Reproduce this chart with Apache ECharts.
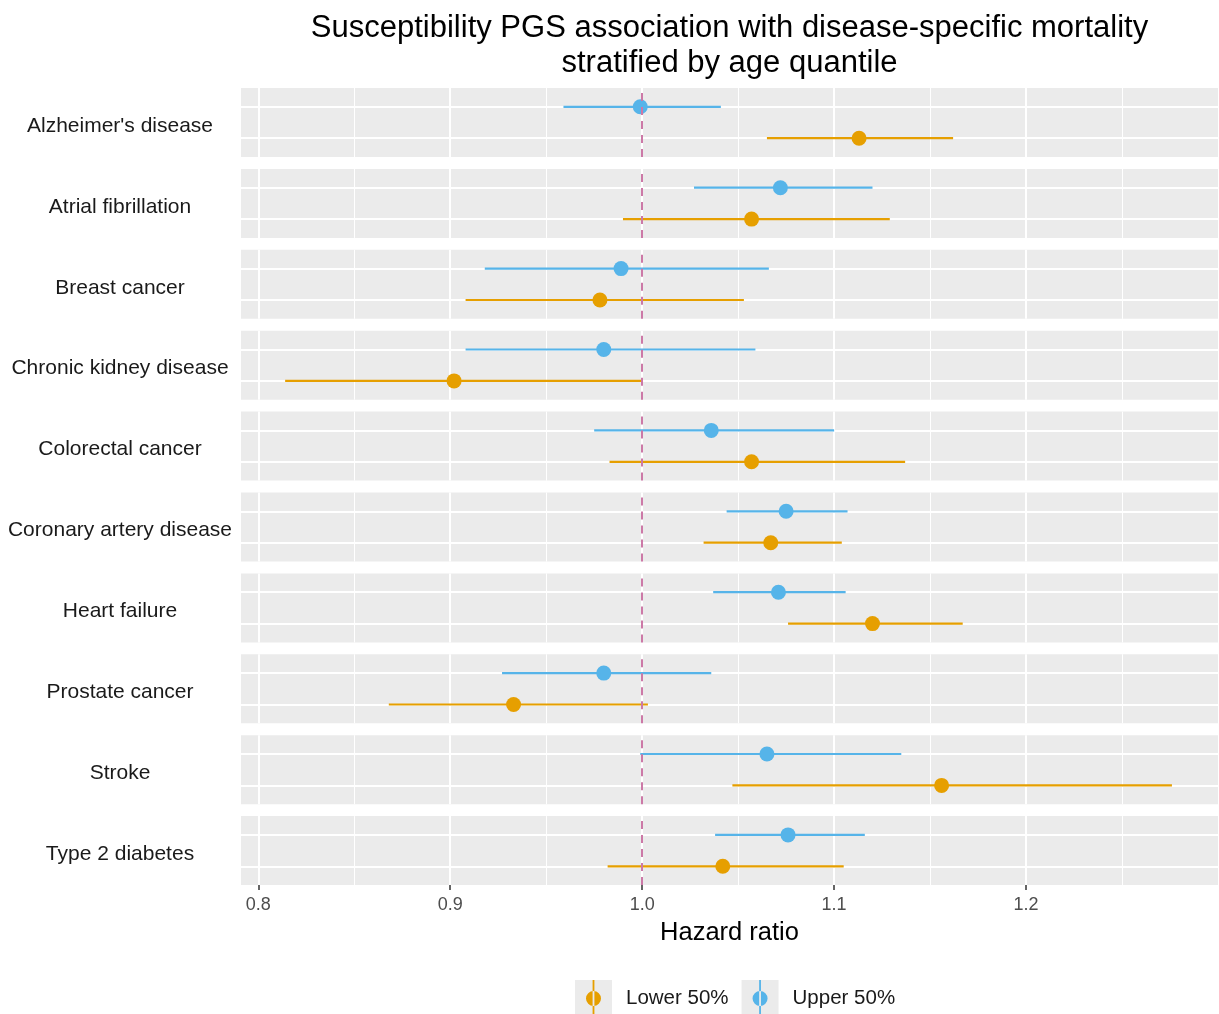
<!DOCTYPE html>
<html>
<head>
<meta charset="utf-8">
<script src="https://cdn.jsdelivr.net/npm/echarts@6/dist/echarts.min.js"></script>
<style>html,body{margin:0;padding:0;background:#fff}#c{width:1219px;height:1014px}</style>
</head>
<body>
<div id="c"></div>
<script>
// ---- data ----
const diseases = ["Alzheimer's disease","Atrial fibrillation","Breast cancer","Chronic kidney disease","Colorectal cancer","Coronary artery disease","Heart failure","Prostate cancer","Stroke","Type 2 diabetes"];
const groups = ["Lower 50%","Upper 50%"];
const upperEst = [0.999,1.072,0.989,0.980,1.036,1.075,1.071,0.980,1.065,1.076];
const upperLo  = [0.959,1.027,0.918,0.908,0.975,1.044,1.037,0.927,0.999,1.038];
const upperHi  = [1.041,1.120,1.066,1.059,1.100,1.107,1.106,1.036,1.135,1.116];
const lowerEst = [1.113,1.057,0.978,0.902,1.057,1.067,1.120,0.933,1.156,1.042];
const lowerLo  = [1.065,0.990,0.908,0.814,0.983,1.032,1.076,0.868,1.047,0.982];
const lowerHi  = [1.162,1.129,1.053,1.000,1.137,1.104,1.167,1.003,1.276,1.105];
const xTicks = [0.8,0.9,1.0,1.1,1.2];
const xMinor = [0.85,0.95,1.05,1.15,1.25];
const refValue = 1.0;

const colors = {"Lower 50%":"#E69F00","Upper 50%":"#56B4E9"};
const FONT = "Liberation Sans, Arial, Helvetica, sans-serif";

const chart = echarts.init(document.getElementById('c'), null, {renderer:'canvas'});

const grids=[], xAxes=[], yAxes=[], series=[];
const panelTop = 88, pitch = 80.9, panelH = 69;
diseases.forEach((d,i)=>{
  const last = i === diseases.length-1;
  grids.push({left:241, right:1, top: panelTop + i*pitch, height: panelH, show:true, backgroundColor:'#EBEBEB', borderWidth:0, containLabel:false});
  xAxes.push({
    type:'value', gridIndex:i, min:0.791, max:1.300, show: last,
    axisLine:{show:false}, splitLine:{show:false},
    axisTick:{show:true, length:5, lineStyle:{color:'#333333', width:1.5}, customValues: xTicks},
    axisLabel:{show:true, color:'#4D4D4D', fontSize:18, fontFamily:FONT, margin:11, customValues: xTicks,
      formatter: v => v.toFixed(1)},
    name: last ? 'Hazard ratio' : '', nameLocation:'middle', nameGap:35,
    nameTextStyle:{color:'#000', fontSize:25.5, fontFamily:FONT}
  });
  yAxes.push({type:'value', gridIndex:i, min:0.4, max:2.6, show:false, splitLine:{show:false}});
  yAxes.push({type:'category', gridIndex:i, data:[d], position:'left',
    axisLine:{show:false}, axisTick:{show:false}, splitLine:{show:false},
    axisLabel:{show:true, align:'center', verticalAlign:'middle', margin:121,
      formatter: v => '{t|' + v + '}',
      rich:{t:{color:'#1A1A1A', fontSize:21, fontFamily:FONT, padding:[7,0,0,0]}}}});
  // grid lines
  const gl = [];
  xTicks.forEach(v=>gl.push({xAxis:v, lineStyle:{color:'#FFFFFF', width:2, type:'solid'}}));
  xMinor.forEach(v=>gl.push({xAxis:v, lineStyle:{color:'#FFFFFF', width:1, type:'solid'}}));
  [1,2].forEach(v=>gl.push({yAxis:v, lineStyle:{color:'#FFFFFF', width:2, type:'solid'}}));
  series.push({type:'line', name:'grid'+i, xAxisIndex:i, yAxisIndex:2*i, data:[], silent:true,
    markLine:{z:1, silent:true, symbol:'none', label:{show:false}, animation:false, emphasis:{disabled:true}, data:gl}});
  // data
  const sets = [
    {name:"Lower 50%", y:1, est:lowerEst[i], lo:lowerLo[i], hi:lowerHi[i]},
    {name:"Upper 50%", y:2, est:upperEst[i], lo:upperLo[i], hi:upperHi[i]}
  ];
  sets.forEach(s=>{
    const col = colors[s.name];
    series.push({type:'custom', name:s.name, xAxisIndex:i, yAxisIndex:2*i, z:2,
      itemStyle:{color:col},
      encode:{x:[0,1,2], y:3},
      data:[[s.lo, s.hi, s.est, s.y]],
      renderItem:(params, api)=>{
        const a = api.coord([api.value(0), api.value(3)]);
        const b = api.coord([api.value(1), api.value(3)]);
        const p = api.coord([api.value(2), api.value(3)]);
        return {type:'group', children:[
          {type:'line', shape:{x1:a[0],y1:a[1],x2:b[0],y2:b[1]}, style:{stroke:col, lineWidth:2.2}},
          {type:'circle', shape:{cx:p[0], cy:p[1], r:7.5}, style:{fill:col}}
        ]};
      }
    });
  });
  series.push({type:'line', name:'ref'+i, xAxisIndex:i, yAxisIndex:2*i, data:[], silent:true,
    markLine:{z:3, silent:true, symbol:'none', label:{show:false}, animation:false, emphasis:{disabled:true},
      data:[{xAxis:refValue, lineStyle:{color:'#CC79A7', width:2, type:[8,6]}}]}});
});

// square-bbox glyph: vertical line + circle, with tiny corner anchors so it maps 1:1 into the key box
const glyph = 'path://M0 0 h0.01 v0.01 h-0.01 Z M36.99 36.99 h0.01 v0.01 h-0.01 Z M17.6 0 h1.8 v37 h-1.8 Z M11 18.5 a7.5 7.5 0 1 0 15 0 a7.5 7.5 0 1 0 -15 0 Z';
const legendCommon = {left:575, top:980, padding:0, orient:'horizontal', itemWidth:37, itemHeight:37, itemGap:13,
  selectedMode:false, textStyle:{fontSize:20.5, fontFamily:FONT, color:'#1A1A1A', padding:[0,0,0,9]}};

const option = {
  backgroundColor:'#FFFFFF',
  animation:false,
  title:{text:'Susceptibility PGS association with disease-specific mortality\nstratified by age quantile',
    left:729.5, top:11, textAlign:'center', padding:0,
    textStyle:{fontSize:31, lineHeight:35, fontWeight:'normal', color:'#000', fontFamily:FONT}},
  grid:grids, xAxis:xAxes, yAxis:yAxes, series:series,
  legend:[
    Object.assign({}, legendCommon, {z:4, data:groups.map(g=>({name:g, icon:'rect', itemStyle:{color:'#EBEBEB'}})),
      textStyle:Object.assign({}, legendCommon.textStyle, {color:'rgba(0,0,0,0)'})}),
    Object.assign({}, legendCommon, {z:5, data:groups.map(g=>({name:g, icon:glyph, itemStyle:{color:colors[g]}}))})
  ]
};
chart.setOption(option);
</script>
</body>
</html>
